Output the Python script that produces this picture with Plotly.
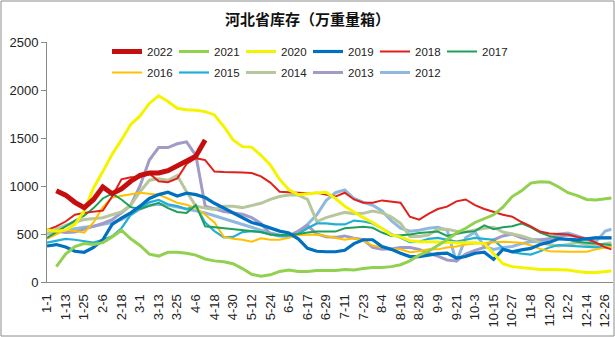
import plotly.graph_objects as go

# ---- data ----
TICK_LABELS = ["1-1", "1-13", "1-25", "2-6", "2-18", "3-1", "3-13", "3-25", "4-6", "4-18",
               "4-30", "5-12", "5-24", "6-5", "6-17", "6-29", "7-11", "7-23", "8-4", "8-16",
               "8-28", "9-9", "9-21", "10-3", "10-15", "10-27", "11-8", "11-20", "12-2", "12-14",
               "12-26"]
TICK_DAYS = [0, 12, 24, 36, 48, 60, 72, 84, 96, 108, 120, 132, 144, 156, 168, 180, 192, 204,
             216, 228, 240, 252, 264, 276, 288, 300, 312, 324, 336, 348, 360]
# observation days (every 6 days from 1-1, plus year end)
DAYS = [0, 6, 12, 18, 24, 30, 36, 42, 48, 54, 60, 66, 72, 78, 84, 90, 96, 102, 108, 114,
        120, 126, 132, 138, 144, 150, 156, 162, 168, 174, 180, 186, 192, 198, 204, 210, 216,
        222, 228, 234, 240, 246, 252, 258, 264, 270, 276, 282, 288, 294, 300, 306, 312, 318,
        324, 330, 336, 342, 348, 354, 360, 364]

N = None
Y2022 = [N, 950, 905, 830, 775, 860, 990, 920, 970, 1050,
         1110, 1135, 1135, 1160, 1210, 1250, 1310, 1480] + [N] * 44
Y2021 = [N, 160, 290, 370, 400, 390, 410, 470, 540, 450,
         380, 290, 270, 310, 310, 300, 280, 240, 220, 210,
         190, 140, 80, 60, 75, 110, 125, 110, 110, 120,
         120, 120, 130, 125, 140, 150, 150, 160, 180, 220,
         280, 320, 380, 440, 510, 560, 620, 660, 700, 780,
         890, 950, 1030, 1045, 1040, 990, 930, 900, 860, 855,
         865, 875]
Y2020 = [545, 530, 540, 600, 740, 980, 1150, 1330, 1480, 1640,
         1730, 1860, 1940, 1880, 1810, 1795, 1790, 1775, 1740, 1620,
         1480, 1410, 1405, 1320, 1220, 1070, 960, 910, 920, 930,
         935, 870, 790, 730, 670, 620, 560, 490, 470, 430,
         420, 420, 415, 410, 410, 410, 410, 400, 290, 190,
         160, 150, 140, 130, 130, 130, 125, 110, 100, 100,
         110, 115]
Y2019 = [375, 390, 365, 320, 310, 360, 440, 600, 665, 720,
         790, 870, 910, 935, 895, 925, 910, 880, 820, 770,
         720, 670, 620, 595, 560, 530, 510, 450, 350, 320,
         315, 315, 330, 400, 440, 440, 370, 340, 300, 265,
         265, 280, 295, 300, 250, 265, 300, 310, 235, 340,
         315, 335, 350, 390, 415, 450, 445, 440, 450, 460,
         460, 460]
Y2018 = [540, 580, 630, 700, 720, 730, 745, 890, 1070, 1090,
         1090, 1130, 1050, 1040, 1080, 1230, 1290, 1270, 1150, 1145,
         1145, 1140, 1135, 1100, 1035, 940, 935, 930, 925, 930,
         910, 890, 930, 860, 825, 825, 850, 835, 825, 680,
         650, 710, 760, 785, 840, 860, 800, 760, 730, 700,
         680, 625, 580, 525, 505, 500, 495, 470, 450, 410,
         360, 340]
Y2017 = [460, 520, 575, 640, 690, 770, 870, 920, 860, 780,
         760, 790, 825, 770, 730, 720, 800, 580, 570, 565,
         550, 540, 535, 520, 495, 490, 493, 500, 515, 525,
         525, 525, 560, 570, 575, 565, 515, 480, 485, 495,
         510, 520, 525, 480, 500, 520, 530, 590, 550, 570,
         580, 610, 570, 515, 480, 460, 445, 420, 410, 400,
         390, 385]
Y2016 = [450, 500, 545, 530, 515, 620, 780, 880, 900, 915,
         930, 920, 910, 870, 825, 805, 770, 700, 620, 470,
         450, 440, 420, 455, 440, 440, 460, 490, 495, 495,
         480, 460, 440, 455, 430, 380, 360, 345, 340, 310,
         320, 340, 340, 360, 370, 390, 400, 410, 415, 420,
         415, 410, 380, 345, 320, 315, 315, 315, 315, 340,
         360, 370]
Y2015 = [410, 430, 450, 440, 425, 410, 440, 475, 560, 700,
         770, 830, 855, 810, 790, 760, 790, 620, 530, 465,
         470, 520, 530, 520, 495, 480, 475, 500, 560, 610,
         610, 600, 600, 640, 630, 610, 560, 500, 460, 415,
         420, 450, 460, 440, 420, 440, 460, 450, 440, 350,
         310, 295, 285, 320, 360, 385, 380, 370, 365, 360,
         365, 370]
Y2014 = [495, 550, 590, 625, 650, 660, 670, 700, 730, 800,
         940, 1060, 1075, 1060, 1110, 940, 790, 770, 755, 790,
         790, 775, 800, 820, 860, 890, 905, 905, 860, 630,
         670, 700, 725, 710, 715, 740, 720, 680, 610, 475,
         475, 490, 550, 550, 530, 520, 540, 560, 570, 520,
         500, 480, 450, 410, 390, 375, 390, 410, 390, 375,
         400, 410]
Y2013 = [545, 530, 515, 520, 550, 580, 610, 650, 720, 800,
         1000, 1270, 1400, 1400, 1440, 1460, 1320, 790, 760, 735,
         720, 705, 670, 610, 500, 480, 480, 530, 590, 500,
         470, 465, 480, 455, 440, 360, 340, 345, 360, 360,
         340, 300, 270, 230, 220, 290, 330, 360, 440, 480,
         500, 460, 440, 440, 450, 470, 490, 470, 450, 460,
         460, 460]
Y2012 = [500, 520, 540, 555, 570, 580, 600, 620, 650, 700,
         760, 800, 810, 800, 780, 760, 740, 720, 690, 660,
         630, 600, 570, 540, 510, 490, 480, 520, 600, 700,
         850, 930, 960, 870, 830, 800, 740, 640, 560, 530,
         540, 560, 570, 540, 210, 460, 520, 370, 340, 360,
         370, 400, 420, 420, 450, 500, 510, 480, 440, 420,
         530, 550]

SERIES = [
    ("2022", Y2022, "#C50F0F", 5.0, "legend"),
    ("2021", Y2021, "#92D050", 3.0, "legend"),
    ("2020", Y2020, "#F4F400", 3.0, "legend"),
    ("2019", Y2019, "#0070C0", 3.2, "legend"),
    ("2018", Y2018, "#E0201B", 2.0, "legend"),
    ("2017", Y2017, "#1FA05A", 2.0, "legend"),
    ("2016", Y2016, "#FFC000", 2.0, "legend2"),
    ("2015", Y2015, "#22AFD6", 2.2, "legend2"),
    ("2014", Y2014, "#B7C79C", 3.0, "legend2"),
    ("2013", Y2013, "#A19BC8", 3.0, "legend2"),
    ("2012", Y2012, "#8FB8DE", 3.0, "legend2"),
]

fig = go.Figure()
# draw older years first so 2022 sits on top
for rank, (name, ys, color, width, leg) in reversed(list(enumerate(SERIES))):
    fig.add_trace(go.Scatter(
        x=DAYS, y=ys, name=name, mode="lines",
        line=dict(color=color, width=width),
        legend=leg, legendrank=rank + 1, connectgaps=False,
        hoverinfo="skip",
    ))

W, H = 615, 337
ML, MR, MT, MB = 47, 2, 42, 55
PW, PH = W - ML - MR, H - MT - MB

legend_common = dict(
    orientation="h", xanchor="left", yanchor="top",
    x=(107 - ML) / PW, entrywidth=22, entrywidthmode="pixels",
    font=dict(family="Liberation Sans, Arial, sans-serif", size=11.5, color="#222"),
    bgcolor="rgba(0,0,0,0)", itemwidth=30, tracegroupgap=0, traceorder="normal",
)

fig.update_layout(
    width=W, height=H,
    margin=dict(l=ML, r=MR, t=MT, b=MB, pad=0, autoexpand=False),
    paper_bgcolor="white", plot_bgcolor="white",
    title=dict(text="<b>河北省库存（万重量箱）</b>", x=0.5, xanchor="center",
               y=1 - 20 / H, yanchor="middle",
               font=dict(family="Noto Sans CJK SC", size=15, color="#111")),
    legend=dict(y=1 + 5 / PH, **legend_common),
    legend2=dict(y=(H - MB - 58) / PH, **legend_common),
    xaxis=dict(range=[0, 365], tickmode="array", tickvals=TICK_DAYS, ticktext=TICK_LABELS,
               tickangle=-90, showline=True, linecolor="#8A8A8A", linewidth=1,
               showgrid=False, zeroline=False, ticks="", ticklabelstandoff=6,
               tickfont=dict(family="Liberation Sans, Arial, sans-serif", size=13, color="#222")),
    yaxis=dict(range=[0, 2500], dtick=500, showline=True, linecolor="#8A8A8A", linewidth=1,
               ticks="outside", ticklen=5, tickcolor="#8A8A8A",
               showgrid=False, zeroline=False,
               tickfont=dict(family="Liberation Sans, Arial, sans-serif", size=13, color="#222")),
    shapes=[dict(type="rect", xref="paper", yref="paper",
                 x0=(1 - ML) / PW, x1=(614 - ML) / PW,
                 y0=-(MB - 1) / PH, y1=(MT - 1 + PH) / PH,
                 line=dict(color="#8C8C8C", width=1), fillcolor="rgba(0,0,0,0)", layer="below")],
)

fig.write_html("out.html")
